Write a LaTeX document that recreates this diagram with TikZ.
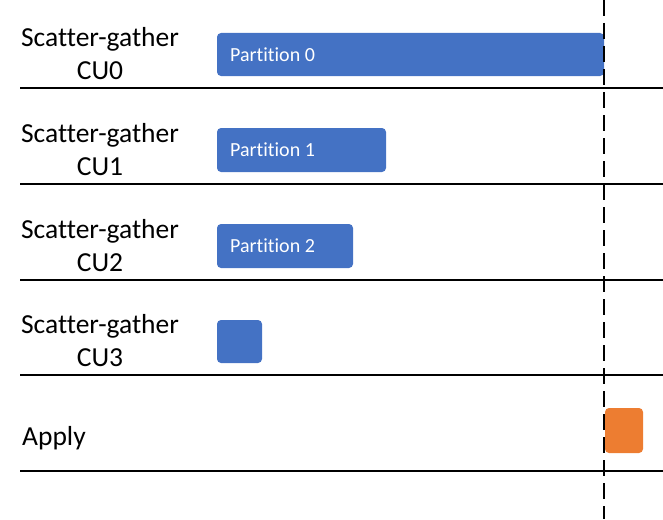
\documentclass[tikz,border=0pt]{standalone}
\usepackage{fontspec}
\setmainfont[Ligatures=NoCommon]{Carlito}
\definecolor{barblue}{HTML}{4472C4}
\definecolor{barorange}{HTML}{ED7D31}
\begin{document}
\begin{tikzpicture}[x=1pt,y=-1pt,
  lane/.style={line width=1.6pt,black},
  lbl/.style={font=\fontsize{27.5}{33}\selectfont,align=center,inner sep=0pt},
  bar/.style={fill=barblue,rounded corners=4pt,draw=none},
  bartext/.style={font=\fontsize{20}{22}\selectfont,text=white,anchor=west,inner sep=0pt},
  sync/.style={line width=1.8pt,dash pattern=on 16pt off 7pt}]
\useasboundingbox (0,0) rectangle (663,519);
% lanes
\foreach \y/\n in {88/l0,184/l1,280/l2,375/l3,471/l4}{
  \coordinate (\n a) at (20,\y);
  \coordinate (\n b) at (663,\y);
  \draw[lane] (\n a) -- (\n b);
}
% labels
\node[lbl] (c0) at (100,54) {Scatter-gather\\CU0};
\node[lbl] (c1) at (100,150) {Scatter-gather\\CU1};
\node[lbl] (c2) at (100,246) {Scatter-gather\\CU2};
\node[lbl] (c3) at (100,341) {Scatter-gather\\CU3};
\node[lbl,anchor=west] (ap) at (22,438) {Apply};
% bars
\draw[bar] (217,33) rectangle (604,76);
\node[bartext] (p0) at (230,55) {Partition 0};
\draw[bar] (217,128) rectangle (386,172);
\node[bartext] (p1) at (230,150) {Partition 1};
\draw[bar] (217,224) rectangle (353,268);
\node[bartext] (p2) at (230,246) {Partition 2};
\draw[bar] (217,320) rectangle (262,363);
\draw[bar,fill=barorange] (605,408) rectangle (643,453);
% sync line
\coordinate (st) at (604,0);
\coordinate (sb) at (604,519);
\draw[sync] (st) -- (sb);
\end{tikzpicture}
\end{document}
